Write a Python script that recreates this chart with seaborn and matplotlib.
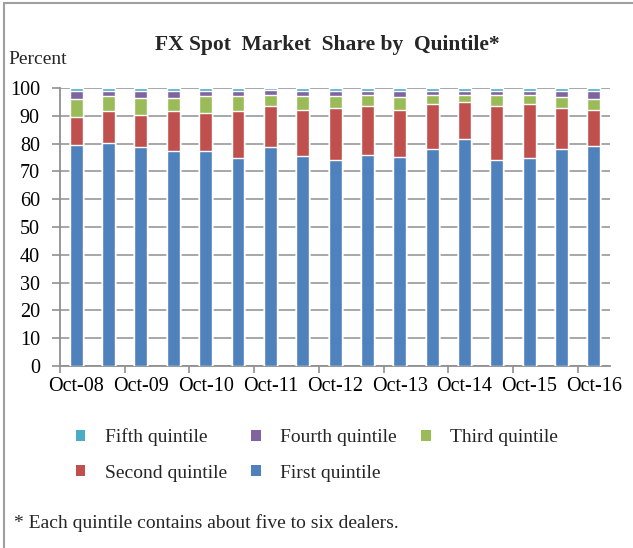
import numpy as np
import pandas as pd
import matplotlib
matplotlib.use("Agg")
import matplotlib.pyplot as plt
from matplotlib.lines import Line2D
from matplotlib.patches import Patch
import seaborn as sns

# --- data (percent of FX spot volume, per quintile) ---
periods = ["Oct-08", "Apr-09", "Oct-09", "Apr-10", "Oct-10", "Apr-11", "Oct-11", "Apr-12",
           "Oct-12", "Apr-13", "Oct-13", "Apr-14", "Oct-14", "Apr-15", "Oct-15", "Apr-16", "Oct-16"]
first_q = [79.5, 80.1, 78.8, 77.4, 77.4, 74.7, 78.8, 75.4, 74.0, 75.9, 75.3, 78.1, 81.6, 74.0, 74.7, 78.1, 79.3]
second_q = [10.0, 11.5, 11.6, 14.2, 13.6, 16.9, 14.8, 16.8, 18.8, 17.5, 16.9, 16.2, 13.2, 19.4, 19.5, 14.7, 12.9]
third_q = [6.6, 5.4, 6.0, 4.8, 6.0, 5.4, 4.0, 4.8, 4.4, 3.9, 4.5, 3.3, 2.8, 3.9, 3.4, 3.9, 3.9]
fourth_q = [2.7, 2.0, 2.6, 2.6, 2.0, 2.0, 1.8, 1.8, 1.6, 1.5, 2.1, 1.2, 1.2, 1.5, 1.2, 2.3, 2.7]
fifth_q = [1.2, 1.0, 1.0, 1.0, 1.0, 1.0, 0.6, 1.2, 1.2, 1.2, 1.2, 1.2, 1.2, 1.2, 1.2, 1.0, 1.2]

series_names = ["First quintile", "Second quintile", "Third quintile", "Fourth quintile", "Fifth quintile"]
series_vals = [first_q, second_q, third_q, fourth_q, fifth_q]
colors = ["#4F81BD", "#C0504D", "#9BBB59", "#8064A2", "#4BACC6"]

sns.set_theme(style="white")
plt.rcParams["font.family"] = ["Liberation Serif", "DejaVu Serif"]

df = pd.DataFrame({"period": periods})
cum = np.zeros(len(periods))
for name, vals in zip(series_names, series_vals):
    cum = cum + np.array(vals)
    df[name] = cum

fig = plt.figure(figsize=(6.33, 5.48), dpi=100)
ax = fig.add_axes([0.0948, 0.332, 0.869, 0.5075])

# stacked bars: draw cumulative totals from the top layer down
for name, col in reversed(list(zip(series_names, colors))):
    sns.barplot(data=df, x="period", y=name, color=col, saturation=1, width=0.4,
                ax=ax, zorder=3)

ax.set_xlim(-0.5, len(periods) - 0.5)
ax.set_ylim(0, 100)
ax.set_yticks(range(0, 101, 10))
ax.set_xticks(range(0, len(periods), 2))
ax.set_xticklabels(periods[::2])
ax.set_xticks(np.arange(-0.5, len(periods) - 1, 2), minor=True)
ax.set_xlabel("")
ax.set_ylabel("")

ax.yaxis.grid(True, color="#a0a0a0", lw=1.3, zorder=0)
ax.xaxis.grid(False)
ax.set_axisbelow(True)
for s in ["top", "right"]:
    ax.spines[s].set_visible(False)
for s in ["left", "bottom"]:
    ax.spines[s].set_color("#909090")
    ax.spines[s].set_linewidth(1.3)

ax.tick_params(axis="y", which="major", left=True, length=5.5, width=1.2, color="#909090",
               pad=9, labelsize=14.5, labelcolor="black")
ax.tick_params(axis="x", which="major", bottom=False, length=0, pad=8, labelsize=14.5,
               labelcolor="black")
ax.tick_params(axis="x", which="minor", bottom=True, length=5, width=1.2, color="#909090")

fig.text(0.517, 1 - 45 / 548, "FX Spot  Market  Share by  Quintile*", ha="center", va="center",
         fontsize=15.5, fontweight="bold")
fig.text(8 / 633, 1 - 59 / 548, "Percent", ha="left", va="center", fontsize=14)

handles = [Patch(facecolor=c, edgecolor="none") for c in colors]
lbl = dict(zip(series_names, handles))
order = ["Fifth quintile", "Second quintile", "Fourth quintile", "First quintile", "Third quintile"]
fig.legend([lbl[o] for o in order], order, ncol=3, loc="upper left",
           bbox_to_anchor=(58 / 633, 1 - 411 / 548), frameon=False, fontsize=14,
           handlelength=0.5, handleheight=0.5, handletextpad=1.0, columnspacing=1.25,
           labelspacing=0.95)

fig.text(14 / 633, 1 - 523 / 548, "* Each quintile contains about five to six dealers.",
         ha="left", va="center", fontsize=14)

# chart frame (left and top edges visible)
fig.add_artist(Line2D([4 / 633, 4 / 633], [0, 1 - 3 / 548], color="#a0a0a0", lw=1.5))
fig.add_artist(Line2D([4 / 633, 1], [1 - 3 / 548, 1 - 3 / 548], color="#a0a0a0", lw=1.5))

fig.savefig("out.png", dpi=100)
plt.close(fig)
